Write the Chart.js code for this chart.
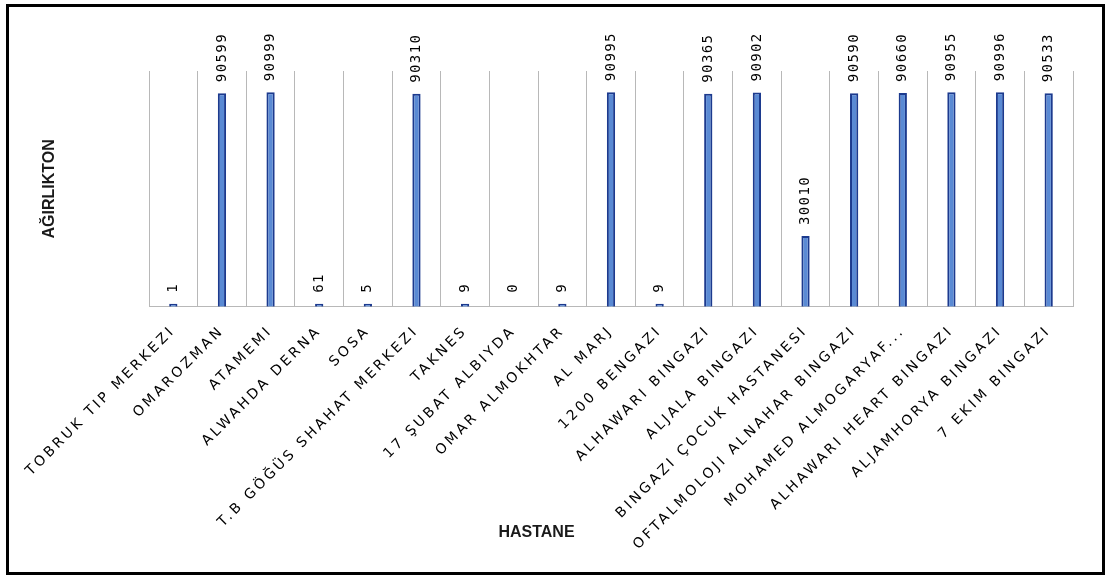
<!DOCTYPE html>
<html>
<head>
<meta charset="utf-8">
<script src="https://cdn.jsdelivr.net/npm/chart.js@4.4.1/dist/chart.umd.min.js"></script>
<style>
  html, body { margin: 0; padding: 0; background: #fff; }
  #wrap { position: relative; width: 1105px; height: 576px; }
  #frame { position: absolute; left: 6px; top: 4px; width: 1099px; height: 571px; border: 3px solid #000; box-sizing: border-box; pointer-events: none; }
</style>
</head>
<body>
<div id="wrap">
  <canvas id="chart" width="1105" height="576"></canvas>
  <div id="frame"></div>
</div>
<script>
const hospitals = [
    'TOBRUK TIP MERKEZI', 'OMAROZMAN', 'ATAMEMI', 'ALWAHDA DERNA', 'SOSA',
    'T.B GÖĞÜS SHAHAT MERKEZI', 'TAKNES', '17 ŞUBAT ALBIYDA', 'OMAR ALMOKHTAR', 'AL MARJ',
    '1200 BENGAZI', 'ALHAWARI BINGAZI', 'ALJALA BINGAZI', 'BINGAZI ÇOCUK HASTANESI',
    'OFTALMOLOJI ALNAHAR BINGAZI', 'MOHAMED ALMOGARYAF...', 'ALHAWARI HEART BINGAZI',
    'ALJAMHORYA BINGAZI', '7 EKIM BINGAZI'
];
const weights = [1, 90599, 90999, 61, 5, 90310, 9, 0, 9, 90995, 9, 90365, 90902, 30010, 90590, 90660, 90955, 90996, 90533];
const yTitle = 'AĞIRLIKTON';
const xTitle = 'HASTANE';

// value labels above bars + letter spacing for the x tick labels (drawn after datasets)
const spacingPlugin = {
    id: 'spacing',
    beforeDraw(chart) {
        chart.ctx.letterSpacing = '0px';
    },
    afterDatasetsDraw(chart) {
        const ctx = chart.ctx;
        const meta = chart.getDatasetMeta(0);
        ctx.save();
        ctx.font = '14px "DejaVu Sans Mono"';
        ctx.fillStyle = '#000';
        ctx.letterSpacing = '1.4px';
        ctx.textAlign = 'left';
        ctx.textBaseline = 'middle';
        meta.data.forEach((bar, i) => {
            ctx.save();
            ctx.translate(bar.x, bar.y - 11);
            ctx.rotate(-Math.PI / 2);
            ctx.fillText(String(weights[i]), 0, 0);
            ctx.restore();
        });
        ctx.restore();
        ctx.letterSpacing = '3px';
    }
};

new Chart(document.getElementById('chart'), {
    type: 'bar',
    data: {
        labels: hospitals,
        datasets: [{
            data: weights,
            backgroundColor: c => weights[c.dataIndex] === 0 ? 'rgba(0,0,0,0)' : '#5a8ad4',
            borderColor: c => weights[c.dataIndex] === 0 ? 'rgba(0,0,0,0)' : '#1c3a8e',
            borderWidth: 2,
            minBarLength: 3,
            barPercentage: 0.17,
            categoryPercentage: 1
        }]
    },
    options: {
        responsive: false,
        animation: false,
        layout: { padding: { top: 71, right: 32, left: 0, bottom: 0 } },
        plugins: {
            legend: { display: false },
            tooltip: { enabled: false },
            title: {
                display: true,
                text: xTitle,
                position: 'bottom',
                color: '#1a1a1a',
                font: { family: 'Liberation Sans', size: 16, weight: 'bold' },
                padding: { top: -34, bottom: 34 }
            }
        },
        scales: {
            x: {
                afterFit(scale) { scale.height = 250; },
                grid: { color: '#b8b8b8', lineWidth: 1, drawTicks: false, offset: true },
                border: { color: '#b8b8b8' },
                ticks: {
                    z: 1,
                    autoSkip: false,
                    minRotation: 45,
                    maxRotation: 45,
                    padding: 16,
                    color: '#000',
                    font: { family: 'DejaVu Sans', size: 14 }
                }
            },
            y: {
                min: 0,
                max: 100000,
                afterFit(scale) { scale.width = 149; },
                grid: { display: false },
                border: { display: false },
                ticks: { display: false },
                title: {
                    display: true,
                    text: yTitle,
                    color: '#1a1a1a',
                    font: { family: 'Liberation Sans', size: 16, weight: 'bold' },
                    padding: { top: 40, bottom: 0 }
                }
            }
        }
    },
    plugins: [spacingPlugin]
});
</script>
</body>
</html>
